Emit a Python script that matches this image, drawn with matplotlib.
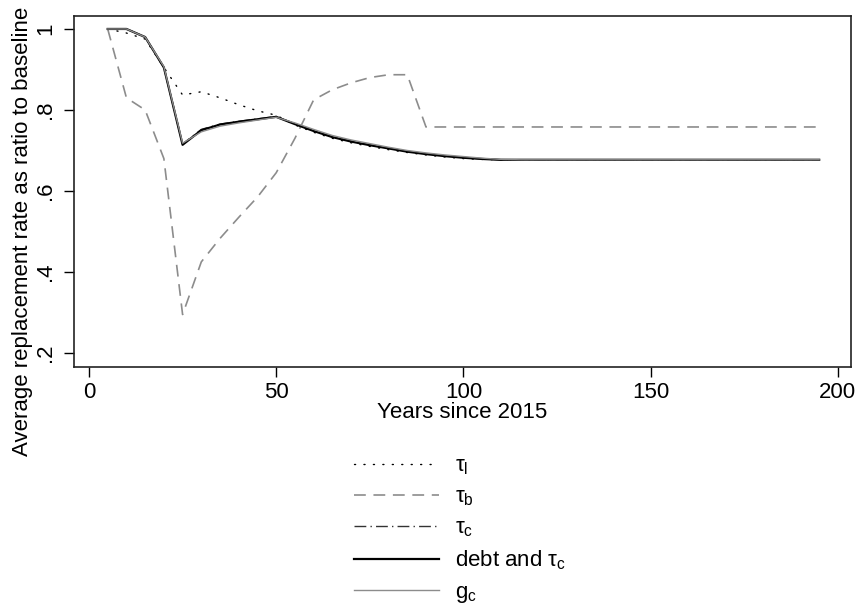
import matplotlib
matplotlib.use("Agg")
import matplotlib.pyplot as plt
import numpy as np

plt.rcParams['font.family'] = ['Liberation Sans', 'DejaVu Sans']
plt.rcParams['mathtext.fontset'] = 'custom'
plt.rcParams['mathtext.rm'] = 'Liberation Sans'
plt.rcParams['mathtext.it'] = 'Liberation Sans'
plt.rcParams['lines.scale_dashes'] = False

years = list(range(5, 200, 5))

tau_l = [1.0, 0.99, 0.975, 0.905, 0.837, 0.845, 0.83, 0.813, 0.798, 0.787,
         0.763, 0.745, 0.73, 0.719, 0.71, 0.702, 0.695, 0.689, 0.684, 0.68,
         0.678, 0.677] + [0.677] * 17

tau_b = [1.0, 0.83, 0.80, 0.68, 0.295, 0.425, 0.483, 0.535, 0.585, 0.645,
         0.73, 0.825, 0.85, 0.867, 0.88, 0.887, 0.887] + [0.758] * 22

tau_c = [1.0, 1.0, 0.98, 0.905, 0.716, 0.752, 0.765, 0.772, 0.778, 0.784,
         0.766, 0.749, 0.734, 0.723, 0.714, 0.706, 0.698, 0.692, 0.687, 0.683,
         0.679, 0.677] + [0.677] * 17

debt_tau_c = [1.0, 1.0, 0.98, 0.905, 0.714, 0.750, 0.764, 0.771, 0.777, 0.783,
              0.765, 0.748, 0.733, 0.722, 0.713, 0.705, 0.697, 0.691, 0.686, 0.682,
              0.679, 0.677] + [0.677] * 17

g_c = [1.0, 1.0, 0.98, 0.907, 0.718, 0.746, 0.760, 0.768, 0.775, 0.782,
       0.768, 0.752, 0.737, 0.726, 0.717, 0.708, 0.700, 0.694, 0.689, 0.685,
       0.681, 0.678] + [0.677] * 17

labels = ['τ$_\\mathrm{l}$', 'τ$_\\mathrm{b}$', 'τ$_\\mathrm{c}$',
          'debt and τ$_\\mathrm{c}$', 'g$_\\mathrm{c}$']

xticks = [0, 50, 100, 150, 200]
yticks = [0.2, 0.4, 0.6, 0.8, 1.0]
yticklabels = ['.2', '.4', '.6', '.8', '1']

FS = 16

fig = plt.figure(figsize=(8.63, 6.07), dpi=100)
ax = fig.add_axes([74/863, 1-367/607, (851-74)/863, (367-16)/607])

h1, = ax.plot(years, tau_l, color='black', lw=1.0, linestyle=(0, (0.8, 6.0)),
              dash_capstyle='round')
h2, = ax.plot(years, tau_b, color='#8c8c8c', lw=1.2, linestyle=(0, (8.5, 5.5)))
h3, = ax.plot(years, tau_c, color='#333333', lw=1.0, linestyle=(0, (8.5, 3, 1, 3)))
h4, = ax.plot(years, debt_tau_c, color='black', lw=1.6)
h5, = ax.plot(years, g_c, color='#8c8c8c', lw=1.0)

ax.set_xlim(-4.0, 203.5)
ax.set_ylim(0.1654, 1.032)
ax.set_xticks(xticks)
ax.set_xticklabels([str(t) for t in xticks], fontsize=FS)
ax.set_yticks(yticks)
ax.set_yticklabels(yticklabels, fontsize=FS, rotation=90, va='center')
ax.tick_params(direction='out', length=7, width=1.0, color='black')
ax.tick_params(axis='x', pad=4)
ax.tick_params(axis='y', pad=6)
for s in ax.spines.values():
    s.set_linewidth(1.2)
    s.set_color('#222222')

ax.set_xlabel('Years since 2015', fontsize=FS, labelpad=-1)
ax.set_ylabel('Average replacement rate as ratio to baseline', fontsize=FS)
ax.yaxis.set_label_coords(-0.053, 0.385)

fig.legend([h1, h2, h3, h4, h5], labels, loc='upper left',
           bbox_to_anchor=(345/863, 1-447/607), frameon=False, fontsize=FS,
           handlelength=3.85, handletextpad=0.68, labelspacing=0.42,
           borderaxespad=0)

fig.savefig('out.png', dpi=100)
